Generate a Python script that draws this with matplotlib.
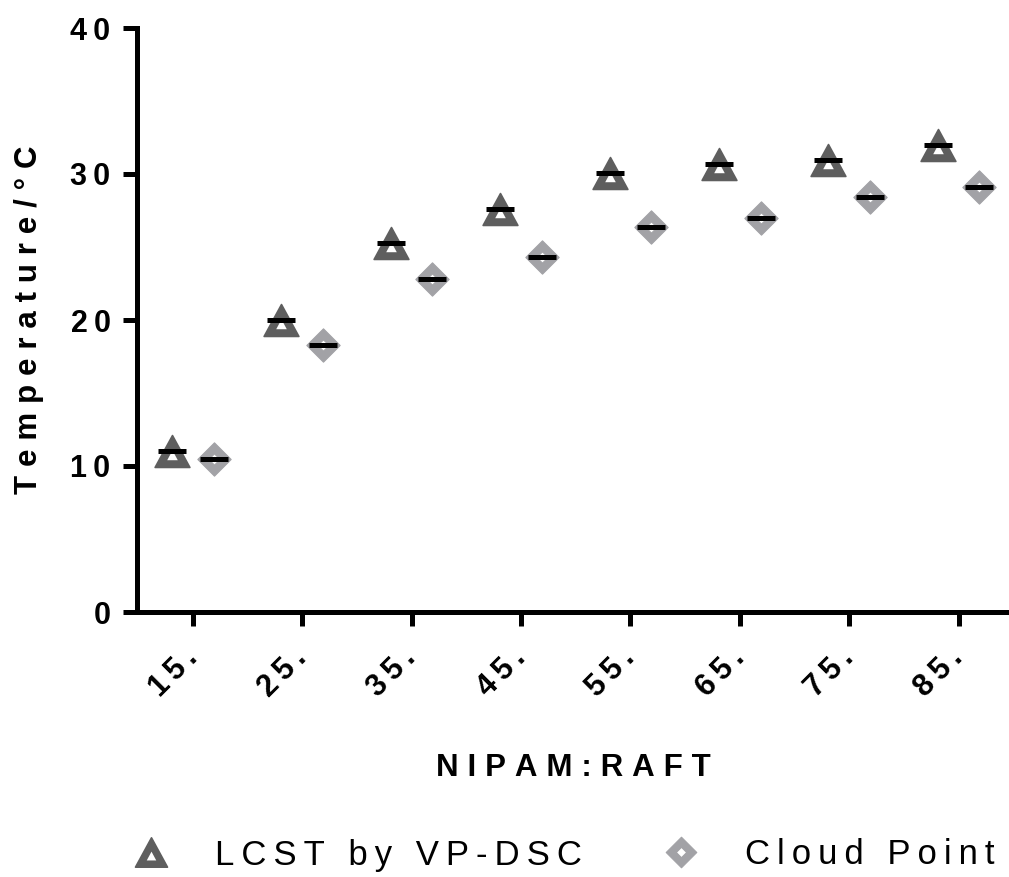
import numpy as np
import matplotlib
matplotlib.use("Agg")
import matplotlib.pyplot as plt
from matplotlib.path import Path
from matplotlib.markers import MarkerStyle
from matplotlib.lines import Line2D

plt.rcParams['font.family'] = ['Liberation Sans', 'DejaVu Sans']

# NIPAM:RAFT feed ratios and measured transition temperatures (°C)
ratios = ["15.", "25.", "35.", "45.", "55.", "65.", "75.", "85."]
lcst_vpdsc = [11.05, 20.0, 25.3, 27.6, 30.1, 30.7, 30.95, 32.0]
cloud_point = [10.45, 18.3, 22.8, 24.3, 26.4, 27.0, 28.4, 29.1]
yticks = [0, 10, 20, 30, 40]

TRI_COLOR = '#5e5e5e'
DIA_COLOR = '#a2a2a6'

THIN = '\u2009'
HAIR = '\u200a'


def spaced(s, sep=THIN):
    """Letter-spaced version of a label."""
    return sep.join(s)


def holed_marker(outer, inner):
    verts = list(outer) + [outer[0]] + list(inner) + [inner[0]]
    codes = ([Path.MOVETO] + [Path.LINETO] * (len(outer) - 1) + [Path.CLOSEPOLY] +
             [Path.MOVETO] + [Path.LINETO] * (len(inner) - 1) + [Path.CLOSEPOLY])
    return MarkerStyle(Path(verts, codes), joinstyle='round')


# open triangle (thick outline) and open diamond
tri_marker = holed_marker([(0, 1), (-1.09, -1), (1.09, -1)],
                          [(0, 0.18), (0.42, -0.6), (-0.42, -0.6)])
dia_marker = holed_marker([(0, 1), (-1, 0), (0, -1), (1, 0)],
                          [(0, 0.34), (0.34, 0), (0, -0.34), (-0.34, 0)])

fig = plt.figure(figsize=(10.09, 8.77), dpi=100)
ax = fig.add_axes([137 / 1009, 1 - 612 / 877, 873 / 1009, 584 / 877])

x = np.arange(len(ratios))
off = 0.19

ax.plot(x - off, lcst_vpdsc, linestyle='none', marker=tri_marker, markersize=25,
        markerfacecolor=TRI_COLOR, markeredgecolor=TRI_COLOR, markeredgewidth=1.2,
        clip_on=False, zorder=3)
ax.plot(x + off, cloud_point, linestyle='none', marker=dia_marker, markersize=24,
        markerfacecolor=DIA_COLOR, markeredgecolor=DIA_COLOR, markeredgewidth=0.8,
        clip_on=False, zorder=3)

# mean bars
ax.plot(x - off, lcst_vpdsc, linestyle='none', marker='_', markersize=20,
        markeredgewidth=3.6, color='black', clip_on=False, zorder=4)
ax.plot(x + off, cloud_point, linestyle='none', marker='_', markersize=20,
        markeredgewidth=3.6, color='black', clip_on=False, zorder=4)

ax.set_xlim(-0.51, 7.47)
ax.set_ylim(0, 40)
ax.set_yticks(yticks)
ax.set_yticklabels([spaced(str(v)) for v in yticks], fontsize=22, fontweight='bold')
ax.set_xticks(x)
ax.set_xticklabels([spaced(r) for r in ratios], fontsize=22, fontweight='bold',
                   rotation=45, ha='right', va='center', rotation_mode='anchor')

for side in ('top', 'right'):
    ax.spines[side].set_visible(False)
for side in ('left', 'bottom'):
    ax.spines[side].set_linewidth(3.6)
    ax.spines[side].set_capstyle('projecting')
ax.tick_params(axis='both', direction='out', length=10, width=3.6, color='black')
ax.tick_params(axis='y', pad=9)
ax.tick_params(axis='x', pad=20)

ax.set_ylabel(spaced("Temperature/°C", THIN + HAIR), fontsize=22.5, fontweight='bold',
              labelpad=19)
ax.set_xlabel(spaced("NIPAM:RAFT", THIN + HAIR), fontsize=22.5, fontweight='bold',
              labelpad=36)

handles = [
    Line2D([], [], linestyle='none', marker=tri_marker, markersize=23,
           markerfacecolor=TRI_COLOR, markeredgecolor=TRI_COLOR, markeredgewidth=1.2),
    Line2D([], [], linestyle='none', marker=dia_marker, markersize=22,
           markerfacecolor=DIA_COLOR, markeredgecolor=DIA_COLOR, markeredgewidth=0.8),
]
labels = [spaced("LCST by VP-DSC"), spaced("Cloud Point")]
fig.legend(handles, labels, loc='center left', bbox_to_anchor=(121 / 1009, 1 - 855 / 877),
           ncol=2, frameon=False, fontsize=25, handlelength=1.75, handletextpad=0.95,
           columnspacing=2.0, borderpad=0, borderaxespad=0)

fig.savefig("out.png", dpi=100)
